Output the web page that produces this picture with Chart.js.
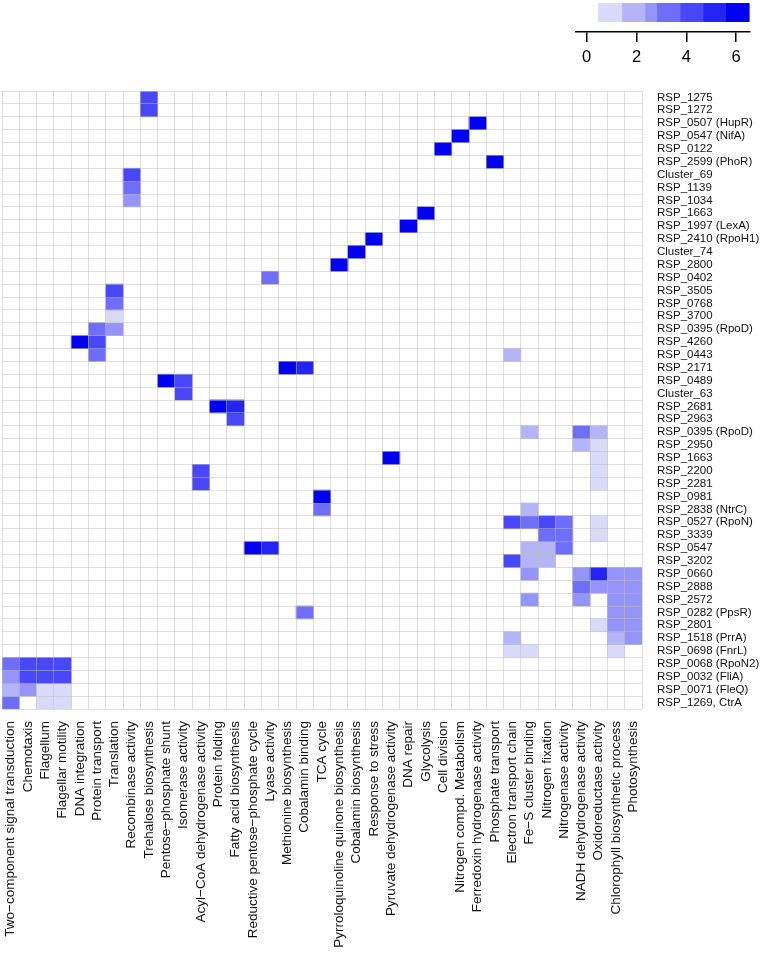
<!DOCTYPE html>
<html>
<head>
<meta charset="utf-8">
<script src="https://cdn.jsdelivr.net/npm/chart.js@4.4.1/dist/chart.umd.min.js"></script>
<style>
  html, body { margin: 0; padding: 0; background: #fff; }
  #wrap { position: relative; width: 761px; height: 960px; }
  #heat { position: absolute; left: 0; top: 0; }
  #key { position: absolute; left: 575px; top: 0; }
</style>
</head>
<body>
<div id="wrap">
  <canvas id="heat" width="761" height="960"></canvas>
  <canvas id="key" width="176" height="70"></canvas>
</div>
<script>
// columns of the heatmap (functional categories)
const functions = [
  'Two−component signal transduction', 'Chemotaxis', 'Flagellum', 'Flagellar motility',
  'DNA integration', 'Protein transport', 'Translation', 'Recombinase activity',
  'Trehalose biosynthesis', 'Pentose−phosphate shunt', 'Isomerase activity',
  'Acyl−CoA dehydrogenase activity', 'Protein folding', 'Fatty acid biosynthesis',
  'Reductive pentose−phosphate cycle', 'Lyase activity', 'Methionine biosynthesis',
  'Cobalamin binding', 'TCA cycle', 'Pyrroloquinoline quinone biosynthesis',
  'Cobalamin biosynthesis', 'Response to stress', 'Pyruvate dehydrogenase activity',
  'DNA repair', 'Glycolysis', 'Cell division', 'Nitrogen compd. Metabolism',
  'Ferredoxin hydrogenase activity', 'Phosphate transport', 'Electron transport chain',
  'Fe−S cluster binding', 'Nitrogen fixation', 'Nitrogenase activity',
  'NADH dehydrogenase activity', 'Oxidoreductase activity',
  'Chlorophyll biosynthetic process', 'Photosynthesis'
];

// rows of the heatmap (regulators), top to bottom
const regulators = [
  'RSP_1275', 'RSP_1272', 'RSP_0507 (HupR)', 'RSP_0547 (NifA)', 'RSP_0122',
  'RSP_2599 (PhoR)', 'Cluster_69', 'RSP_1139', 'RSP_1034', 'RSP_1663',
  'RSP_1997 (LexA)', 'RSP_2410 (RpoH1)', 'Cluster_74', 'RSP_2800', 'RSP_0402',
  'RSP_3505', 'RSP_0768', 'RSP_3700', 'RSP_0395 (RpoD)', 'RSP_4260', 'RSP_0443',
  'RSP_2171', 'RSP_0489', 'Cluster_63', 'RSP_2681', 'RSP_2963', 'RSP_0395 (RpoD)',
  'RSP_2950', 'RSP_1663', 'RSP_2200', 'RSP_2281', 'RSP_0981', 'RSP_2838 (NtrC)',
  'RSP_0527 (RpoN)', 'RSP_3339', 'RSP_0547', 'RSP_3202', 'RSP_0660', 'RSP_2888',
  'RSP_2572', 'RSP_0282 (PpsR)', 'RSP_2801', 'RSP_1518 (PrrA)', 'RSP_0698 (FnrL)',
  'RSP_0068 (RpoN2)', 'RSP_0032 (FliA)', 'RSP_0071 (FleQ)', 'RSP_1269, CtrA'
];

// non-empty cells: [row index, column index, value]
const cells = [
  [0, 8, 4.2], [1, 8, 4.2], [2, 27, 6], [3, 26, 6], [4, 25, 6], [5, 28, 6],
  [6, 7, 4.2], [7, 7, 3.3], [8, 7, 2.6], [9, 24, 6], [10, 23, 6], [11, 21, 6],
  [12, 20, 6], [13, 19, 6], [14, 15, 3.3], [15, 6, 4.2], [16, 6, 3.3], [17, 6, 1],
  [18, 5, 3.3], [18, 6, 2.6], [19, 4, 6], [19, 5, 4.2], [20, 5, 3.3], [20, 29, 1.9],
  [21, 16, 6], [21, 17, 5.1], [22, 9, 6], [22, 10, 4.2], [23, 10, 4.2],
  [24, 12, 6], [24, 13, 5.1], [25, 13, 4.2],
  [26, 30, 1.9], [26, 33, 3.3], [26, 34, 1.9], [27, 33, 1.9], [27, 34, 1],
  [28, 22, 6], [28, 34, 1], [29, 11, 4.2], [29, 34, 1], [30, 11, 4.2], [30, 34, 1],
  [31, 18, 6], [32, 18, 3.3], [32, 30, 1.9],
  [33, 29, 4.2], [33, 30, 3.3], [33, 31, 4.2], [33, 32, 3.3], [33, 34, 1],
  [34, 31, 3.3], [34, 32, 3.3], [34, 34, 1],
  [35, 14, 6], [35, 15, 5.1], [35, 30, 1.9], [35, 31, 1.9], [35, 32, 3.3],
  [36, 29, 4.2], [36, 30, 1.9], [36, 31, 1.9],
  [37, 30, 2.6], [37, 33, 2.6], [37, 34, 5.1], [37, 35, 2.6], [37, 36, 2.6],
  [38, 33, 3.3], [38, 34, 2.6], [38, 35, 2.6], [38, 36, 2.6],
  [39, 30, 2.6], [39, 33, 2.6], [39, 35, 2.6], [39, 36, 2.6],
  [40, 17, 3.3], [40, 35, 2.6], [40, 36, 2.6],
  [41, 34, 1], [41, 35, 2.6], [41, 36, 2.6],
  [42, 29, 1.9], [42, 35, 1.9], [42, 36, 2.6],
  [43, 29, 1], [43, 30, 1], [43, 35, 1],
  [44, 0, 3.3], [44, 1, 4.2], [44, 2, 4.2], [44, 3, 4.2],
  [45, 0, 2.6], [45, 1, 4.2], [45, 2, 4.2], [45, 3, 4.2],
  [46, 0, 1.9], [46, 1, 2.6], [46, 2, 1], [46, 3, 1],
  [47, 0, 3.3], [47, 2, 1], [47, 3, 1]
];

// colour key
const breaks = [0.47, 1.41, 2.34, 2.81, 3.75, 4.68, 5.58, 6.53];
const binColors = ['#d9d9fa', '#b4b4f8', '#9494fa', '#6e6efa', '#4848fa', '#2424f5', '#0000f3'];
const keyTicks = [0, 2, 4, 6];
const keyMin = -0.47;
const keyMax = 6.56;

const FONT = "'Liberation Sans', Arial, Helvetica, sans-serif";
Chart.defaults.font.family = FONT;
const gridColor = 'rgba(190,190,190,0.5)';

function colorFor(v) {
  for (let i = 0; i < binColors.length; i++) {
    if (v <= breaks[i + 1]) return binColors[i];
  }
  return binColors[binColors.length - 1];
}

// one dataset per row, bars float from row to row + 1
const heatSets = regulators.map((name, r) => {
  const data = functions.map(() => null);
  const colors = functions.map(() => 'rgba(0,0,0,0)');
  cells.filter(c => c[0] === r).forEach(([, col, v]) => {
    data[col] = [r, r + 1];
    colors[col] = colorFor(v);
  });
  return {
    label: name,
    data: data,
    backgroundColor: colors,
    borderWidth: 0,
    grouped: false,
    barPercentage: 1,
    categoryPercentage: 1,
    xAxisID: 'x',
    yAxisID: 'y'
  };
});

new Chart(document.getElementById('heat'), {
  type: 'bar',
  data: { labels: functions, datasets: heatSets },
  options: {
    responsive: false,
    animation: false,
    devicePixelRatio: 1,
    layout: { padding: { left: 2, top: 91, right: 0, bottom: 0 } },
    plugins: { legend: { display: false }, tooltip: { enabled: false } },
    scales: {
      x: {
        type: 'category',
        position: 'bottom',
        offset: true,
        grid: { offset: true, color: gridColor, z: 1, drawTicks: false },
        border: { display: false },
        ticks: {
          autoSkip: false, minRotation: 90, maxRotation: 90, padding: 12,
          color: '#111', font: { size: 13.5 }
        },
        afterFit: s => { s.height = 251; s.paddingLeft = 0; s.paddingRight = 0; }
      },
      y: {
        type: 'linear',
        position: 'left',
        reverse: true,
        min: 0,
        max: regulators.length,
        afterBuildTicks: s => {
          s.ticks = regulators.map((_, i) => ({ value: i })).concat([{ value: regulators.length }]);
        },
        ticks: { display: false },
        grid: { color: gridColor, z: 1, drawTicks: false },
        border: { display: false },
        afterFit: s => { s.width = 0; }
      },
      y2: {
        type: 'category',
        position: 'right',
        labels: regulators,
        offset: true,
        grid: { display: false, drawTicks: false },
        border: { display: false },
        ticks: { autoSkip: false, padding: 15, color: '#111', font: { size: 11.5 } },
        afterFit: s => { s.width = 119; }
      }
    }
  }
});

// colour key in the top right corner
new Chart(document.getElementById('key'), {
  type: 'bar',
  data: {
    labels: [''],
    datasets: binColors.map((c, i) => ({
      data: [[breaks[i], breaks[i + 1]]],
      backgroundColor: c,
      borderWidth: 0,
      grouped: false,
      barPercentage: 1,
      categoryPercentage: 1,
      xAxisID: 'x',
      yAxisID: 'y'
    }))
  },
  options: {
    indexAxis: 'y',
    responsive: false,
    animation: false,
    devicePixelRatio: 1,
    layout: { padding: { left: 0, top: 3, right: 1, bottom: 0 } },
    plugins: { legend: { display: false }, tooltip: { enabled: false } },
    scales: {
      x: { type: 'linear', display: false, min: keyMin, max: keyMax },
      y: { type: 'category', display: false },
      xg: {
        type: 'linear', position: 'bottom', weight: 0, min: keyMin, max: keyMax,
        grid: { display: false, drawTicks: false },
        ticks: { display: false },
        border: { display: false },
        afterFit: s => { s.height = 10; }
      },
      xt: {
        type: 'linear', position: 'bottom', weight: 1, min: keyMin, max: keyMax,
        afterBuildTicks: s => { s.ticks = keyTicks.map(v => ({ value: v })); },
        grid: { drawOnChartArea: false, drawTicks: true, tickLength: 10, color: '#000', lineWidth: 1.5 },
        border: { display: true, color: '#000', width: 1.5 },
        ticks: { padding: 6, color: '#000', font: { size: 16.5 } },
        afterFit: s => { s.height = 38; s.paddingLeft = 0; s.paddingRight = 0; }
      }
    }
  }
});
</script>
</body>
</html>
